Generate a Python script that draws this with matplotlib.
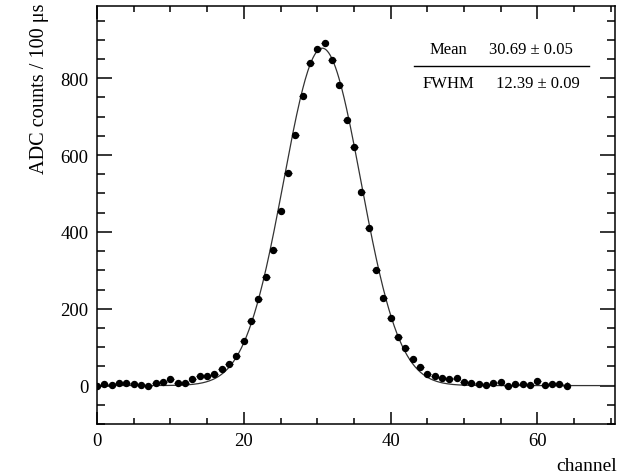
import numpy as np
import matplotlib
matplotlib.use("Agg")
import matplotlib.pyplot as plt
from matplotlib.ticker import MultipleLocator

# ---- data ----
channels = list(range(65))
counts = [0, 3, 2, 6, 6, 3, 2, -2, 7, 10,
          17, 6, 6, 17, 24, 26, 31, 44, 57, 78,
          117, 168, 225, 282, 352, 453, 552, 652, 754, 839,
          876, 891, 847, 782, 691, 620, 504, 409, 302, 228,
          176, 126, 99, 70, 49, 31, 25, 21, 16, 19,
          10, 6, 5, 2, 6, 9, 0, 3, 3, 2,
          12, 2, 5, 3, 0]
count_err = [5] * 64 + [8]
chan_err = [0.5] * 65

# fit parameters (Gaussian)
fit_mean = 30.69
fit_mean_err = 0.05
fit_fwhm = 12.39
fit_fwhm_err = 0.09
fit_amp = 878.0
fit_base = 0.0

x_label = "channel"
y_label = "ADC counts / 100 μs"

plt.rcParams['font.family'] = ['Liberation Serif', 'DejaVu Serif']
plt.rcParams['mathtext.fontset'] = 'stix'

W, H = 630, 477
fig = plt.figure(figsize=(W / 100, H / 100), dpi=100)
ax = fig.add_axes([97 / W, 1 - 425 / H, (614.5 - 97) / W, (425 - 7.3) / H])

# fit curve
sigma = fit_fwhm / (2 * np.sqrt(2 * np.log(2)))
xs = np.linspace(0, 70.5, 600)
ys = fit_base + fit_amp * np.exp(-(xs - fit_mean) ** 2 / (2 * sigma ** 2))
ax.plot(xs, ys, color='#333333', lw=0.9, zorder=2)

ax.errorbar(channels, counts, yerr=count_err, xerr=chan_err, fmt='o',
            color='black', ms=4.3, elinewidth=0.9, capsize=0, zorder=3)

ax.set_xlim(0, 70.5)
ax.set_ylim(-100, 987)
ax.xaxis.set_major_locator(MultipleLocator(20))
ax.xaxis.set_minor_locator(MultipleLocator(5))
ax.yaxis.set_major_locator(MultipleLocator(200))
ax.yaxis.set_minor_locator(MultipleLocator(50))
ax.tick_params(which='both', direction='in', top=True, right=True,
               labelsize=13.5, width=1.1, pad=6)
ax.tick_params(axis='x', which='major', length=9)
ax.tick_params(axis='x', which='minor', length=4.5)
ax.tick_params(axis='y', which='major', length=11)
ax.tick_params(axis='y', which='minor', length=6)
for s in ax.spines.values():
    s.set_linewidth(1.1)

fig.text(40 / W, 1 - 4 / H, y_label, rotation=90, ha='center', va='top',
         fontsize=14.6)
fig.text(617 / W, 1 - 467 / H, x_label, ha='right', va='center', fontsize=14)

# fit result box
fig.text(448 / W, 1 - 50 / H, "Mean", ha='center', va='center', fontsize=12)
fig.text(489 / W, 1 - 50 / H, f"{fit_mean:.2f} ± {fit_mean_err:.2f}",
         ha='left', va='center', fontsize=12)
fig.text(448 / W, 1 - 84 / H, "FWHM", ha='center', va='center', fontsize=12)
fig.text(496 / W, 1 - 84 / H, f"{fit_fwhm:.2f} ± {fit_fwhm_err:.2f}",
         ha='left', va='center', fontsize=12)
fig.add_artist(plt.Line2D([414 / W, 589 / W], [1 - 67 / H, 1 - 67 / H],
                          color='black', lw=1.0))

fig.savefig("out.png", dpi=100)
